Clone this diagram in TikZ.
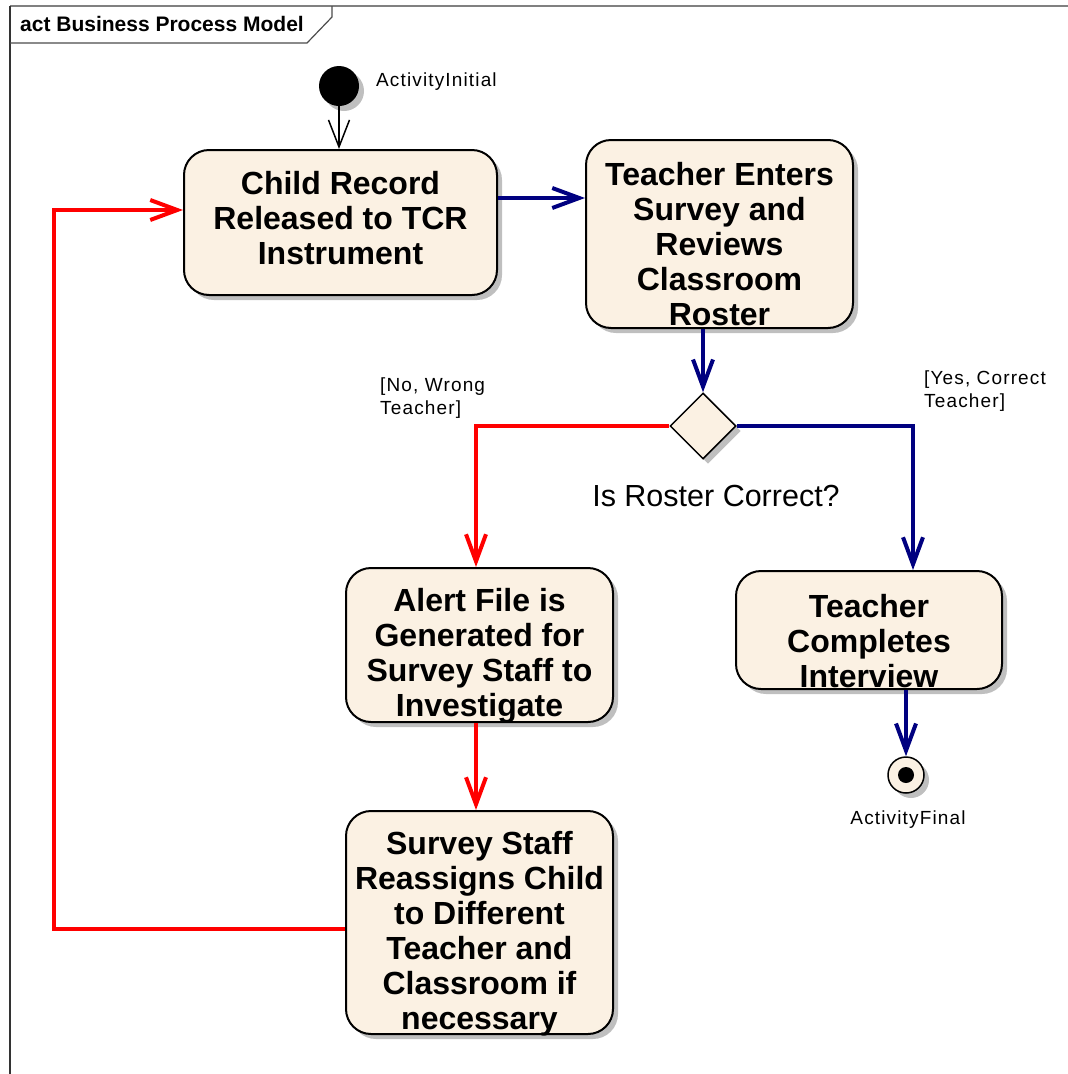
\documentclass[tikz,border=0pt]{standalone}
\usepackage{fontspec}
\setmainfont{Liberation Sans}
\newfontfamily\labelfont[LetterSpace=6]{Liberation Sans}
\usetikzlibrary{calc}
\usetikzlibrary{arrows.meta}
\usetikzlibrary{shapes.geometric}
\usetikzlibrary{shadows}
\definecolor{actfill}{RGB}{251,241,227}
\definecolor{flownavy}{RGB}{0,0,128}
\definecolor{flowred}{RGB}{255,0,0}
\tikzstyle{actshadow}=[drop shadow={shadow xshift=5pt,shadow yshift=-5pt,fill=black!25,opacity=1}]
\tikzstyle{action}=[draw=black,line width=2pt,fill=actfill,rounded corners=25pt,inner sep=0pt,actshadow]
\tikzstyle{actiontext}=[align=center,inner sep=0pt,font=\bfseries\fontsize{32}{35}\selectfont]
\tikzstyle{guard}=[align=left,inner sep=0pt,font=\labelfont\fontsize{19}{23}\selectfont]
\tikzstyle{flow}=[line width=4pt,-{Straight Barb[length=27pt,width=20pt]}]
\tikzstyle{yesflow}=[flow,draw=flownavy]
\tikzstyle{noflow}=[flow,draw=flowred]

\begin{document}
\begin{tikzpicture}[x=1pt,y=-1pt]
  \useasboundingbox (0,0) rectangle (1068,1074);
  % frame
  \draw[gray,line width=1.5pt] (10,6) -- (1068,6);
  \draw[black!80,line width=1.5pt] (10,6) -- (10,1074);
  \draw[black!70,line width=1.2pt] (10,43) -- (307,43) -- (332,17) -- (332,6);
  \node[anchor=west,inner sep=0pt,font=\bfseries\fontsize{21}{25}\selectfont] (title) at (20,24) {act Business Process Model};

  % start / end
  \node[circle,fill=black,minimum size=40,inner sep=0pt,actshadow] (init) at (339,86) {};
  \node[guard,anchor=west] (initlabel) at (376,82) {ActivityInitial};
  \node[circle,draw=black,line width=1.5pt,fill=actfill,minimum size=36,inner sep=0pt,actshadow] (final) at (906,775) {};
  \fill (final.center) circle (8pt);
  \node[guard] (finallabel) at (908,820) {ActivityFinal};

  % actions
  \node[action,minimum width=313,minimum height=145] (child) at (340.5,222.5) {};
  \node[actiontext] (childtxt) at ($(child)+(0,-4)$) {Child Record\\Released to TCR\\Instrument};
  \node[action,minimum width=267,minimum height=188] (teacher) at (719.5,234) {};
  \node[actiontext] (teachertxt) at ($(teacher)+(0,10.5)$) {Teacher Enters\\Survey and\\Reviews\\Classroom\\Roster};
  \node[action,minimum width=267,minimum height=154] (alert) at (479.5,645) {};
  \node[actiontext] (alerttxt) at ($(alert)+(0,11)$) {Alert File is\\Generated for\\Survey Staff to\\Investigate};
  \node[action,minimum width=266,minimum height=118] (complete) at (869,630) {};
  \node[actiontext] (completetxt) at ($(complete)+(0,11)$) {Teacher\\Completes\\Interview};
  \node[action,minimum width=267,minimum height=223] (staff) at (479.5,922.5) {};
  \node[actiontext] (stafftxt) at ($(staff)+(0,11)$) {Survey Staff\\Reassigns Child\\to Different\\Teacher and\\Classroom if\\necessary};

  % decision
  \node[diamond,draw=black,line width=1.5pt,fill=actfill,minimum width=66,minimum height=66,inner sep=0pt,actshadow] (dec) at (703,426) {};
  \node[inner sep=0pt,font=\fontsize{30.5}{34}\selectfont] (declabel) at (716,496) {Is Roster Correct?};
  \node[guard,anchor=west] (nolabel) at (380,398) {[No, Wrong\\Teacher]};
  \node[guard,anchor=west] (yeslabel) at (924,391) {[Yes, Correct\\Teacher]};

  % flows
  \draw[line width=1.5pt,-{Straight Barb[length=27pt,width=21pt]}] (init) -- (init |- child.north);
  \draw[yesflow] ([yshift=24.5pt]child.east) -- ([yshift=24.5pt]child.east -| teacher.west);
  \draw[yesflow] (teacher.south -| dec) -- (dec.north);
  \draw[noflow] (dec.west) -| ([xshift=-3.5pt]alert.north);
  \draw[yesflow] (dec.east) -| ([xshift=44pt]complete.north);
  \draw[yesflow] (final |- complete.south) -- (final.north);
  \draw[noflow] ([xshift=-3.5pt]alert.south) -- ([xshift=-3.5pt]staff.north);
  \coordinate (back) at (54,210);
  \draw[noflow] ([yshift=-6.5pt]staff.west) -| (back) -- (back -| child.west);
\end{tikzpicture}
\end{document}
